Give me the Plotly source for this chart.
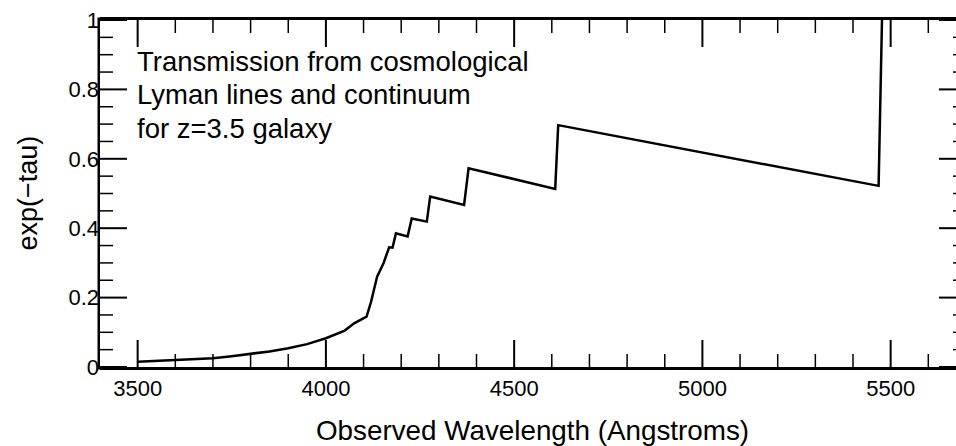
import plotly.graph_objects as go

# Observed wavelength (Angstroms) and transmission exp(-tau) for a z=3.5 galaxy
wavelength = [3500, 3600, 3700, 3750, 3800, 3850, 3900, 3950, 4000, 4050, 4075, 4097, 4108,
              4120, 4136, 4153, 4168, 4177, 4186, 4217, 4228, 4268, 4277, 4367, 4379,
              4609, 4617, 5468, 5477]
transmission = [0.015, 0.020, 0.025, 0.031, 0.037, 0.045, 0.054, 0.066, 0.083, 0.105, 0.126, 0.140, 0.145,
                0.188, 0.260, 0.299, 0.345, 0.344, 0.385, 0.376, 0.428, 0.419, 0.491, 0.467, 0.573,
                0.513, 0.697, 0.522, 1.0]

# tick positions
x_major = [3500, 4000, 4500, 5000, 5500]
x_minor = [3500 + 100 * i for i in range(22)]
y_major = [0.2 * i for i in range(6)]
y_minor = [0.05 * i for i in range(21)]

x_title = "Observed Wavelength (Angstroms)"
y_title = "exp(\u2212tau)"
note_lines = ["Transmission from cosmological", "Lyman lines and continuum", "for z=3.5 galaxy"]

FONT = "Liberation Sans"
W, H = 956, 446
ML, MR, MT, MB = 100, 0, 20, 79
plot_w = W - ML - MR
plot_h = H - MT - MB
px_per_unit = 0.3765
x_lo = 3400
x_hi = x_lo + plot_w / px_per_unit

MAJ_LEN, MIN_LEN = 27, 13
RIGHT_OFF = 10  # right frame lies this many px beyond the visible edge

fig = go.Figure()
fig.add_trace(go.Scatter(x=wavelength, y=transmission, mode="lines",
                         line=dict(color="black", width=2.5), showlegend=False,
                         hoverinfo="skip"))

fig.update_layout(
    width=W, height=H, autosize=False,
    margin=dict(l=ML, r=MR, t=MT, b=MB, pad=0),
    paper_bgcolor="white", plot_bgcolor="white",
    font=dict(family=FONT, color="black", size=22),
    xaxis=dict(range=[x_lo, x_hi], tickmode="array", tickvals=x_major,
               ticks="", showline=True, linewidth=2.5, linecolor="black",
               mirror=True, showgrid=False, zeroline=False),
    yaxis=dict(range=[0, 1], tickmode="array", tickvals=y_major,
               ticktext=[f"{v:g}" for v in y_major],
               ticks="", showline=False, showgrid=False, zeroline=False),
)


def is_major(v, majors):
    return any(abs(v - m) < 1e-9 for m in majors)


# left frame line
fig.add_shape(type="line", xref="paper", yref="paper",
              x0=-1.25 / plot_w, x1=-1.25 / plot_w, y0=-2.5 / plot_h, y1=1 + 2.5 / plot_h,
              line=dict(color="black", width=2.5))

# x ticks, bottom and top, pointing inward
for v in x_minor:
    maj = is_major(v, x_major)
    ln = MAJ_LEN if maj else MIN_LEN
    w = 2 if maj else 1.5
    fig.add_shape(type="line", xref="x", yref="paper", x0=v, x1=v,
                  y0=0, y1=ln / plot_h, line=dict(color="black", width=w))
    fig.add_shape(type="line", xref="x", yref="paper", x0=v, x1=v,
                  y0=1, y1=1 - ln / plot_h, line=dict(color="black", width=w))

# y ticks: left side full length, right side only the tips inside the window
for v in y_minor:
    maj = is_major(v, y_major)
    ln = MAJ_LEN if maj else MIN_LEN
    w = 2 if maj else 1.5
    fig.add_shape(type="line", xref="paper", yref="y", x0=0, x1=ln / plot_w,
                  y0=v, y1=v, line=dict(color="black", width=w))
    fig.add_shape(type="line", xref="paper", yref="y",
                  x0=1 - (ln - RIGHT_OFF) / plot_w, x1=1.01,
                  y0=v, y1=v, line=dict(color="black", width=w))

# caption, one annotation per line
for i, line in enumerate(note_lines):
    fig.add_annotation(text=line, xref="paper", yref="paper",
                       x=(135 - ML) / plot_w, y=1, xanchor="left", yanchor="middle",
                       yshift=-(61 + i * 33.5 - MT), align="left", showarrow=False,
                       font=dict(size=27.5, family=FONT, color="black"))
fig.add_annotation(text=x_title, xref="paper", yref="paper",
                   x=(532 - ML) / plot_w, y=0, xanchor="center", yanchor="middle",
                   yshift=-(430 - (H - MB)), showarrow=False,
                   font=dict(size=27.8, family=FONT, color="black"))
fig.add_annotation(text=y_title, xref="paper", yref="paper",
                   x=0, y=0.5, xanchor="center", yanchor="middle",
                   xshift=27 - ML, textangle=-90, showarrow=False,
                   font=dict(size=27, family=FONT, color="black"))

fig.write_html("out.html")
